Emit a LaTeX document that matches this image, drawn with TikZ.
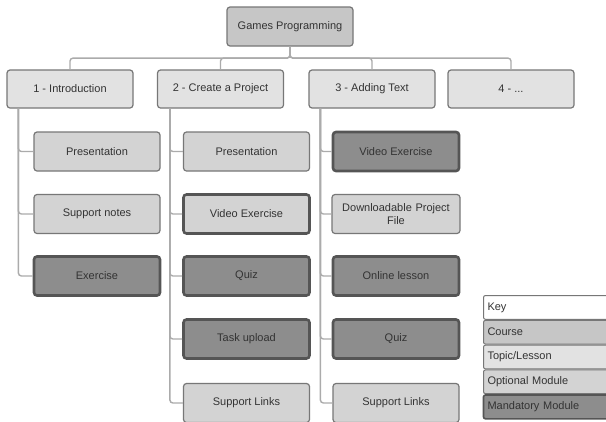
\documentclass[tikz,border=0pt]{standalone}
\usepackage{fontspec}
\setmainfont{Liberation Sans}
\usetikzlibrary{positioning}
\definecolor{boxline}{HTML}{777777}
\definecolor{boxtext}{HTML}{333333}
\definecolor{coursefill}{HTML}{C6C6C6}
\definecolor{topicfill}{HTML}{E2E2E2}
\definecolor{optfill}{HTML}{D3D3D3}
\definecolor{mandfill}{HTML}{8D8D8D}
\definecolor{mandline}{HTML}{555555}
\definecolor{linkgray}{HTML}{ABABAB}
\tikzset{course node/.style={rectangle,rounded corners=3pt,draw=boxline,line width=1.2pt,fill=coursefill,minimum width=126pt,minimum height=39pt,inner sep=2pt,text=boxtext,font=\fontsize{11}{13}\selectfont},
         topic node/.style={course node,fill=topicfill,minimum height=38pt},
         optional node/.style={course node,fill=optfill},
         mandatory node/.style={course node,fill=mandfill,draw=mandline,line width=2.6pt},
         key entry/.style={rectangle,rounded corners=2pt,draw=boxline,line width=1pt,minimum width=140pt,text width=132pt,minimum height=23.8pt,inner xsep=4pt,inner ysep=0pt,align=left,text=boxtext,font=\fontsize{11}{12}\selectfont},
         link/.style={draw=linkgray,line width=1.4pt,rounded corners=3pt}
}
\begin{document}
\begin{tikzpicture}[x=1pt,y=-1pt]
\useasboundingbox[fill=white] (0,0) rectangle (606,421);
% course and topics
\node[course node] (course) at (290,26.5) {Games Programming};
\node[topic node] (t1) at (70,89) {1 - Introduction};
\node[topic node] (t2) at (220.5,89) {2 - Create a Project};
\node[topic node] (t3) at (372,89) {3 - Adding Text};
\node[topic node] (t4) at (511,89) {4 - ...};
\foreach \t in {t1,t2,t3,t4}
    \draw[link] (course.south) -- ++(0,11.5) -| (\t.north);

% 1 - Introduction
\node[optional node] (c11) at (97,151.5) {Presentation};
\node[optional node] (c12) at (97,214) {Support notes};
\node[mandatory node] (c13) at (97,276) {Exercise};
\foreach \c in {c11,c12,c13}
    \draw[link] ([xshift=12pt]t1.south west) |- (\c.west);

% 2 - Create a Project
\node[optional node] (c21) at (246.5,151.5) {Presentation};
\node[optional node,draw=mandline,line width=2.6pt] (c22) at (246.5,214) {Video Exercise};
\node[mandatory node] (c23) at (246.5,276) {Quiz};
\node[mandatory node] (c24) at (246.5,339) {Task upload};
\node[optional node] (c25) at (246.5,403) {Support Links};
\foreach \c in {c21,c22,c23,c24,c25}
    \draw[link] ([xshift=13pt]t2.south west) |- (\c.west);

% 3 - Adding Text
\node[mandatory node] (c31) at (396,151.5) {Video Exercise};
\node[optional node,align=center,text width=124pt] (c32) at (396,214) {Downloadable Project\\File};
\node[mandatory node] (c33) at (396,276) {Online lesson};
\node[mandatory node] (c34) at (396,339) {Quiz};
\node[optional node] (c35) at (396,403) {Support Links};
\foreach \c in {c31,c32,c33,c34,c35}
    \draw[link] ([xshift=12pt]t3.south west) |- (\c.west);

% key
\node[key entry,fill=white,anchor=north west] (key) at (483,295) {Key};
\node[key entry,fill=coursefill,below=0pt of key] (kcourse) {Course};
\node[key entry,fill=topicfill,below=0pt of kcourse] (ktopic) {Topic/Lesson};
\node[key entry,fill=optfill,below=0pt of ktopic] (kopt) {Optional Module};
\node[key entry,fill=mandfill,draw=mandline,line width=1.6pt,below=0pt of kopt] (kmand) {Mandatory Module};
\end{tikzpicture}
\end{document}
